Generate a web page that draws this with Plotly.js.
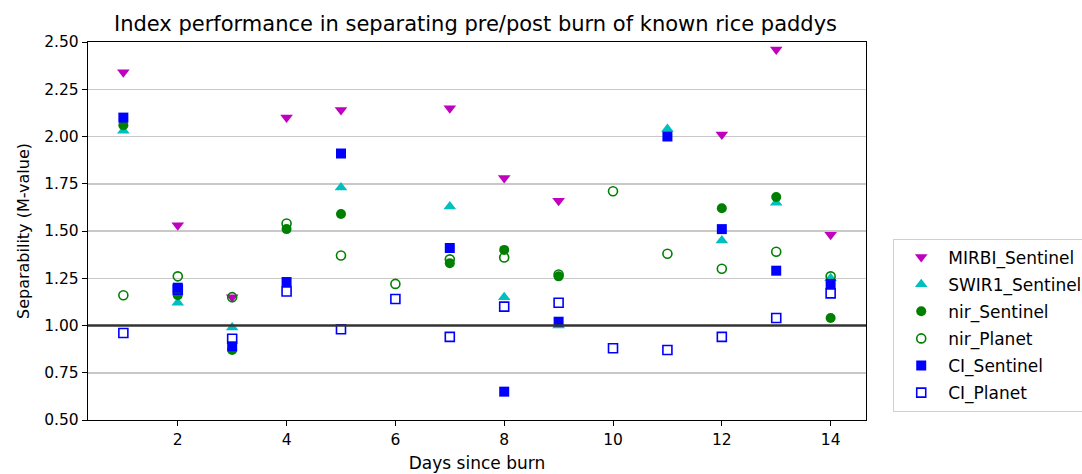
<!DOCTYPE html>
<html>
<head>
<meta charset="utf-8">
<script src="https://cdn.plot.ly/plotly-3.0.1.min.js"></script>
<style>html,body{margin:0;padding:0;background:#fff;}#chart{width:1082px;height:474px;}</style>
</head>
<body>
<div id="chart"></div>
<script>
// Data
const mirbiDays = [1, 2, 3, 4, 5, 7, 8, 9, 12, 13, 14];
const mirbiVals = [2.34, 1.53, 1.15, 2.10, 2.14, 2.15, 1.78, 1.66, 2.01, 2.46, 1.48];

const swirDays = [1, 2, 3, 5, 7, 8, 9, 11, 12, 13, 14];
const swirVals = [2.03, 1.12, 0.99, 1.73, 1.63, 1.15, 1.00, 2.04, 1.45, 1.65, 1.25];

const nirSentDays = [1, 2, 3, 4, 5, 7, 8, 9, 12, 13, 14];
const nirSentVals = [2.06, 1.16, 0.87, 1.51, 1.59, 1.33, 1.40, 1.26, 1.62, 1.68, 1.04];

const nirPlanetDays = [1, 2, 3, 4, 5, 6, 7, 8, 9, 10, 11, 12, 13, 14];
const nirPlanetVals = [1.16, 1.26, 1.15, 1.54, 1.37, 1.22, 1.35, 1.36, 1.27, 1.71, 1.38, 1.30, 1.39, 1.26];

const ciSentDays = [1, 2, 3, 4, 5, 7, 8, 9, 11, 12, 13, 14];
const ciSentVals = [2.10, 1.20, 0.89, 1.23, 1.91, 1.41, 0.65, 1.02, 2.00, 1.51, 1.29, 1.22];

const ciPlanetDays = [1, 2, 3, 4, 5, 6, 7, 8, 9, 10, 11, 12, 13, 14];
const ciPlanetVals = [0.96, 1.19, 0.93, 1.18, 0.98, 1.14, 0.94, 1.10, 1.12, 0.88, 0.87, 0.94, 1.04, 1.17];

const seriesNames = ['MIRBI_Sentinel', 'SWIR1_Sentinel', 'nir_Sentinel', 'nir_Planet', 'CI_Sentinel', 'CI_Planet'];
const yTickVals = [0.50, 0.75, 1.00, 1.25, 1.50, 1.75, 2.00, 2.25, 2.50];
const xTickVals = [2, 4, 6, 8, 10, 12, 14];
const refLine = 1.0;

const FONT = 'DejaVu Sans, sans-serif';

function tr(name, xs, ys, symbol, color, size) {
  return {
    type: 'scatter', mode: 'markers', name: name, x: xs, y: ys,
    legendgroup: name,
    marker: {symbol: symbol, color: color, size: size, line: {color: color, width: symbol.indexOf('open') >= 0 ? 1.6 : 0}},
    hoverinfo: 'x+y+name'
  };
}

const traces = [
  tr(seriesNames[0], mirbiDays, mirbiVals, 'triangle-down', '#bf00bf', 11),
  tr(seriesNames[1], swirDays, swirVals, 'triangle-up', '#00bfbf', 11),
  tr(seriesNames[2], nirSentDays, nirSentVals, 'circle', '#008000', 10),
  tr(seriesNames[3], nirPlanetDays, nirPlanetVals, 'circle-open', '#008000', 9),
  tr(seriesNames[4], ciSentDays, ciSentVals, 'square', '#0000ff', 10),
  tr(seriesNames[5], ciPlanetDays, ciPlanetVals, 'square-open', '#0000ff', 9)
];

const layout = {
  width: 1082, height: 474,
  margin: {l: 88, r: 216, t: 42, b: 54, autoexpand: false},
  paper_bgcolor: '#fff', plot_bgcolor: '#fff',
  font: {family: FONT, size: 15, color: '#000'},
  title: {text: 'Index performance in separating pre/post burn of known rice paddys',
          font: {family: FONT, size: 21, color: '#000'}, x: 0.4395, xanchor: 'center', y: 0.95, yanchor: 'middle'},
  xaxis: {
    range: [0.35, 14.65], tickvals: xTickVals, ticktext: xTickVals.map(String),
    showgrid: false, zeroline: false, showline: true, mirror: true, linecolor: '#000', linewidth: 1.2,
    ticks: 'outside', ticklen: 5, tickcolor: '#000', tickfont: {family: FONT, size: 15.5, color: '#000'},
    title: {text: 'Days since burn', font: {family: FONT, size: 17, color: '#000'}, standoff: 9}
  },
  yaxis: {
    range: [0.5, 2.5], tickvals: yTickVals, ticktext: yTickVals.map(v => v.toFixed(2)),
    showgrid: true, gridcolor: '#c8c8c8', gridwidth: 1.5, zeroline: false,
    showline: true, mirror: true, linecolor: '#000', linewidth: 1.2,
    ticks: 'outside', ticklen: 5, tickcolor: '#000', tickfont: {family: FONT, size: 15.5, color: '#000'},
    title: {text: 'Separability (M-value)', font: {family: FONT, size: 16, color: '#000'}, standoff: 10}
  },
  shapes: [{type: 'line', xref: 'paper', x0: 0, x1: 1, yref: 'y', y0: refLine, y1: refLine,
            line: {color: '#333', width: 2.5}}],
  showlegend: true,
  legend: {x: 1.035, xanchor: 'left', y: 0.48, yanchor: 'top',
           bgcolor: '#fff', bordercolor: '#d0d0d0', borderwidth: 1,
           font: {family: FONT, size: 17, color: '#000'}, tracegroupgap: 2, itemwidth: 44}
};

Plotly.newPlot('chart', traces, layout, {displayModeBar: false, staticPlot: true});
</script>
</body>
</html>
